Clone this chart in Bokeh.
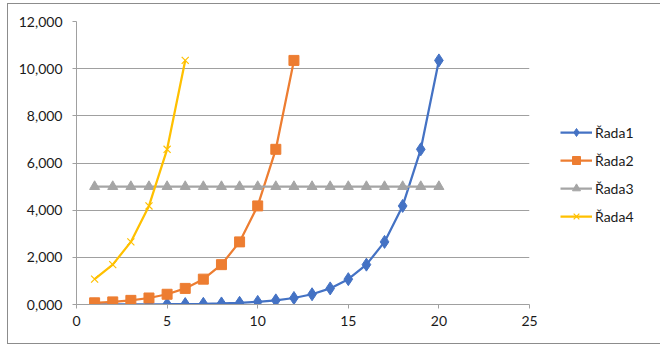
from bokeh.plotting import figure
from bokeh.models import (Legend, LegendItem, CustomJSTickFormatter, FixedTicker,
                          Range1d)
from bokeh.embed import file_html
from bokeh.resources import INLINE

x1 = list(range(1, 21))
rada1 = [1.9, 3.0, 4.7, 7.4, 11.6, 18.2, 28.6, 45, 71, 111, 175, 276, 434, 683,
         1075, 1690, 2655, 4180, 6580, 10350]
x2 = list(range(1, 13))
rada2 = [71, 111, 175, 276, 434, 683, 1075, 1690, 2655, 4180, 6580, 10350]
x3 = list(range(1, 21))
rada3 = [5000] * 20
x4 = list(range(1, 7))
rada4 = [1075, 1690, 2655, 4180, 6580, 10350]
names = ["Řada1", "Řada2", "Řada3", "Řada4"]
x_ticks = [0, 5, 10, 15, 20, 25]
y_ticks = [0, 2000, 4000, 6000, 8000, 10000, 12000]

FONT = "Lato"
GRID = "#a0a0a0"
TEXT = "#1a1a1a"

p = figure(frame_width=453, frame_height=283, output_backend="svg",
           toolbar_location=None,
           x_range=Range1d(0, 25), y_range=Range1d(0, 12000),
           min_border_left=68, min_border_right=121, min_border_top=17,
           min_border_bottom=39, margin=(4, 10, 10, 8),
           styles={"outline": "1px solid #8c8c8c"})
p.outline_line_color = None
p.background_fill_color = "white"

for ax, ticks in ((p.xaxis[0], x_ticks), (p.yaxis[0], y_ticks)):
    ax.ticker = FixedTicker(ticks=ticks)
    ax.axis_line_color = GRID
    ax.major_tick_line_color = GRID
    ax.major_tick_out = 4
    ax.major_tick_in = 0
    ax.minor_tick_line_color = None
    ax.major_label_text_font = FONT
    ax.major_label_text_font_size = "14px"
    ax.major_label_text_color = TEXT
p.xaxis.major_label_standoff = 7
p.yaxis.major_label_standoff = 10
p.yaxis.formatter = CustomJSTickFormatter(
    code="return tick == 0 ? '0,000' : tick.toLocaleString('en-US');")
p.xgrid.grid_line_color = None
p.ygrid.grid_line_color = GRID
p.ygrid.grid_line_width = 1

l1 = p.line(x1, rada1, line_color="#4472C4", line_width=2.25)
m1 = p.scatter(x1, rada1, marker="diamond", size=13, fill_color="#4472C4",
               line_color="#4472C4")
l2 = p.line(x2, rada2, line_color="#ED7D31", line_width=2.25)
m2 = p.scatter(x2, rada2, marker="square", size=10, fill_color="#ED7D31",
               line_color="#ED7D31")
l3 = p.line(x3, rada3, line_color="#A5A5A5", line_width=2.25)
m3 = p.scatter(x3, rada3, marker="triangle", size=10, fill_color="#A5A5A5",
               line_color="#A5A5A5")
l4 = p.line(x4, rada4, line_color="#FFC000", line_width=2.25)
m4 = p.scatter(x4, rada4, marker="x", size=10, line_color="#FFC000",
               line_width=1.2)

items = [LegendItem(label=names[0], renderers=[l1, m1]),
         LegendItem(label=names[1], renderers=[l2, m2]),
         LegendItem(label=names[2], renderers=[l3, m3]),
         LegendItem(label=names[3], renderers=[l4, m4])]
legend = Legend(items=items, location=(31, 78), border_line_color=None,
                background_fill_alpha=0, glyph_width=32, glyph_height=20,
                label_height=20, label_standoff=3, spacing=8, padding=0,
                margin=0, label_text_font=FONT, label_text_font_size="14px",
                label_text_color=TEXT)
p.add_layout(legend, "right")

open("out.html", "w").write(file_html(p, INLINE))
